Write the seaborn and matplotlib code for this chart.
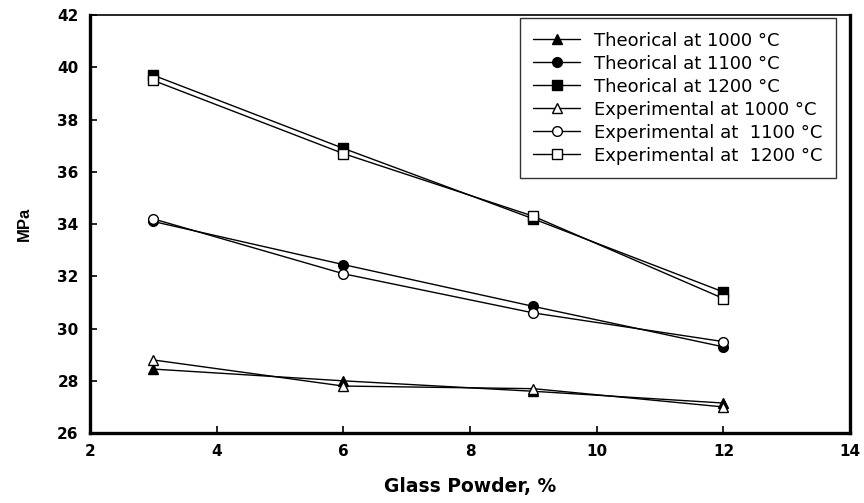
import matplotlib
matplotlib.use("Agg")
import matplotlib.pyplot as plt
import seaborn as sns
import pandas as pd

sns.set_theme(style="white")
plt.rcParams["font.family"] = ["DejaVu Sans"]
plt.rcParams["text.color"] = "black"
plt.rcParams["axes.labelcolor"] = "black"

glass_powder = [3, 6, 9, 12]
theo_1000 = [28.45, 28.0, 27.6, 27.15]
theo_1100 = [34.1, 32.45, 30.85, 29.3]
theo_1200 = [39.7, 36.9, 34.2, 31.4]
exp_1000 = [28.8, 27.8, 27.7, 27.0]
exp_1100 = [34.2, 32.1, 30.6, 29.5]
exp_1200 = [39.5, 36.7, 34.3, 31.15]

series = [
    ("Theorical at 1000 °C", theo_1000, "^", "black"),
    ("Theorical at 1100 °C", theo_1100, "o", "black"),
    ("Theorical at 1200 °C", theo_1200, "s", "black"),
    ("Experimental at 1000 °C", exp_1000, "^", "white"),
    ("Experimental at  1100 °C", exp_1100, "o", "white"),
    ("Experimental at  1200 °C", exp_1200, "s", "white"),
]

rows = []
for name, vals, _, _ in series:
    for x, y in zip(glass_powder, vals):
        rows.append({"series": name, "x": x, "y": y})
df = pd.DataFrame(rows)

fig = plt.figure(figsize=(8.64, 5.03), dpi=100)
ax = fig.add_axes([0.104, 0.139, 0.880, 0.831])

for name, _, marker, face in series:
    sub = df[df["series"] == name]
    sns.lineplot(data=sub, x="x", y="y", ax=ax, color="black", linewidth=1.0,
                 marker=marker, markersize=7, markerfacecolor=face,
                 markeredgecolor="black", markeredgewidth=1.0, label=name)

ax.set_xlim(2, 14)
ax.set_ylim(26, 42)
ax.set_xticks([2, 4, 6, 8, 10, 12, 14])
ax.set_yticks(range(26, 43, 2))
ax.tick_params(axis="both", direction="in", length=5, width=1.2, colors="black",
               labelsize=11, pad=8, left=True, bottom=True)
for lab in ax.get_xticklabels() + ax.get_yticklabels():
    lab.set_fontweight("bold")

for side in ["left", "bottom", "right"]:
    ax.spines[side].set_linewidth(2.4)
    ax.spines[side].set_color("black")
ax.spines["top"].set_linewidth(1.2)
ax.spines["top"].set_color("black")

ax.set_xlabel("Glass Powder, %", fontsize=13.5, fontweight="bold", labelpad=13)
ax.set_ylabel("MPa", fontsize=12, fontweight="bold", labelpad=18,
              family="Liberation Sans")

leg = ax.legend(loc="upper right", bbox_to_anchor=(836 / 864, 1 - 18 / 503),
                bbox_transform=fig.transFigure, frameon=True, fancybox=False,
                edgecolor="black", fontsize=13, handlelength=2.6,
                borderpad=0.75, labelspacing=0.28, handletextpad=0.75,
                borderaxespad=0)
leg.get_frame().set_linewidth(1.0)
for t in leg.get_texts():
    t.set_color("black")

fig.savefig("out.png", dpi=100)
